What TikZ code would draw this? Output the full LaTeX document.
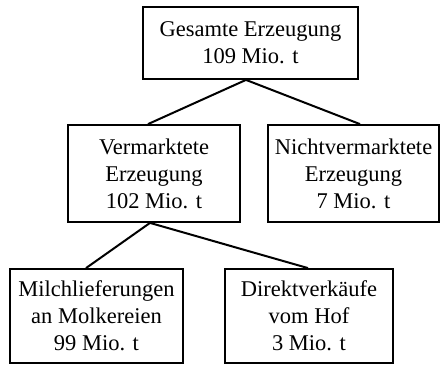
\documentclass[tikz,border=0pt]{standalone}
\usepackage{fontspec}
\setmainfont{Liberation Serif}
\begin{document}
\begin{tikzpicture}[x=0.5pt, y=-0.5pt,
        box/.style={rectangle, draw, line width=0.9pt, align=center, inner sep=0pt, font=\fontsize{11.25}{13.5}\selectfont},
        link/.style={line width=1pt}
    ]
    \useasboundingbox (0,0) rectangle (441,376);
    \node[box, minimum width=107.5pt, minimum height=36pt] (gesamt) at (250.5,43) {Gesamte Erzeugung\\109 Mio. t};
    \node[box, minimum width=86pt, minimum height=48.5pt] (verm) at (154,173.5) {Vermarktete\\Erzeugung\\102 Mio. t};
    \node[box, minimum width=85.5pt, minimum height=48.5pt] (nicht) at (353.5,173.5) {Nichtvermarktete\\Erzeugung\\7 Mio. t};
    \node[box, minimum width=86.5pt, minimum height=47pt] (milch) at (96.5,316) {Milchlieferungen\\an Molkereien\\99 Mio. t};
    \node[box, minimum width=84pt, minimum height=47pt] (direkt) at (309,316) {Direktverk\"aufe\\vom Hof\\3 Mio. t};
    % Verbindungen
    \draw[link] ([xshift=-2.25pt]gesamt.south) -- ([xshift=-3pt]verm.north);
    \draw[link] ([xshift=-2.25pt]gesamt.south) -- ([xshift=3.25pt]nicht.north);
    \draw[link] ([xshift=-2pt]verm.south) -- ([xshift=-5.25pt]milch.north);
    \draw[link] ([xshift=-2pt]verm.south) -- ([xshift=-0.5pt]direkt.north);
\end{tikzpicture}
\end{document}
